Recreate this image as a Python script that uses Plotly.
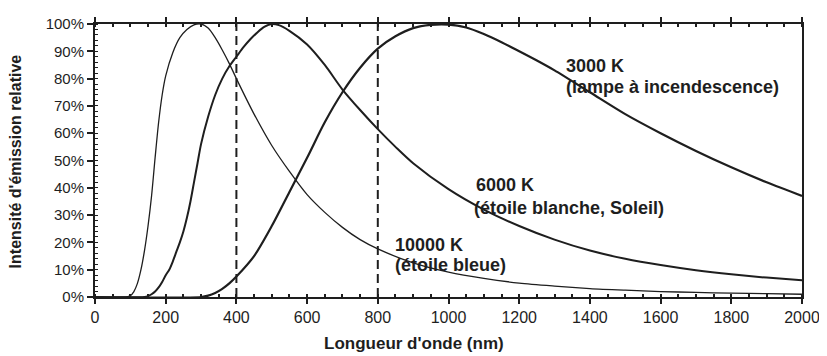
import plotly.graph_objects as go

# Wavelength (nm) and relative emission (%)
wl_10000 = [0, 90, 100, 110, 120, 130, 140, 150, 160, 170, 180, 190, 200, 220, 240, 260, 280, 300,
            320, 340, 360, 380, 400, 450, 500, 550, 600, 650, 700, 750, 800, 900, 1000, 1100,
            1200, 1300, 1400, 1500, 1600, 1700, 1800, 1900, 2000]
int_10000 = [0, 0, 0.5, 2, 5, 10, 17, 26, 37, 51, 64, 74, 81, 89.5, 95, 98, 99.7, 100,
             98.5, 95, 90.5, 85.5, 80, 67, 55.5, 46, 37.5, 31, 25.5, 21, 17.6, 12.5, 9.1, 6.8,
             5.1, 4.0, 3.1, 2.5, 2.0, 1.7, 1.4, 1.2, 1.0]

wl_6000 = [0, 140, 150, 160, 170, 180, 190, 200, 210, 220, 230, 240, 250, 260, 270, 280, 290, 300,
           320, 340, 360, 380, 400, 420, 440, 460, 480, 500, 520, 550, 600, 650, 700, 750, 800,
           850, 900, 1000, 1100, 1200, 1300, 1400, 1500, 1600, 1700, 1800, 1900, 2000]
int_6000 = [0, 0, 0.3, 1, 2, 3.5, 5.5, 8, 10, 13, 16.5, 20, 24, 29, 35, 42, 49, 56,
            66, 74, 80, 84.5, 88, 91.5, 94.5, 97, 99, 100, 99.6, 97.5, 92.5, 85, 76, 68.5, 61.5,
            55, 49, 39.5, 32, 26, 21, 17, 14, 11.7, 9.8, 8.3, 7.1, 6.1]

wl_3000 = [0, 300, 320, 340, 360, 380, 400, 450, 500, 550, 600, 650, 700, 750, 800, 850, 900,
           950, 1000, 1050, 1100, 1150, 1200, 1250, 1300, 1400, 1500, 1600, 1700, 1800, 1900, 2000]
int_3000 = [0, 0, 0.5, 1.5, 3, 5, 7.5, 15, 26, 38.5, 51, 64, 75, 84, 91, 95.5, 98.5,
            99.7, 99.8, 98.7, 96.3, 93.3, 90, 86.6, 83, 75, 67, 60, 53.5, 47.5, 42, 37]

visible_limits_nm = [400, 800]

# curve labels: (text, x in nm, y in %)
label_lines = [
    ("3000 K", 1326, 84.7),
    ("(lampe à incendescence)", 1326, 76.9),
    ("6000 K", 1073, 41.0),
    ("(étoile blanche, Soleil)", 1067, 32.6),
    ("10000 K", 843, 19.0),
    ("(étoile bleue)", 843, 11.7),
]

ink = "#1e1e1e"
font_family = "Liberation Sans, Arial, sans-serif"

fig = go.Figure()
for wl, val, w in [(wl_10000, int_10000, 1.3), (wl_6000, int_6000, 2.0), (wl_3000, int_3000, 2.2)]:
    fig.add_trace(go.Scatter(x=wl, y=val, mode="lines",
                             line=dict(color=ink, width=w, shape="spline", smoothing=0.8),
                             showlegend=False, hoverinfo="skip"))

for v in visible_limits_nm:
    fig.add_shape(type="line", xref="x", yref="y", x0=v, x1=v, y0=0, y1=100,
                  line=dict(color=ink, width=2, dash="9px,5px"))

for txt, x, y in label_lines:
    fig.add_annotation(x=x, y=y, xref="x", yref="y", text=txt, showarrow=False,
                       xanchor="left", yanchor="middle", align="left",
                       font=dict(family=font_family, size=18, color=ink, weight="bold"))

fig.add_annotation(x=0.451, y=-0.17, xref="paper", yref="paper", text="Longueur d'onde (nm)",
                   showarrow=False, xanchor="center", yanchor="middle",
                   font=dict(family=font_family, size=17, color=ink, weight="bold"))
fig.add_annotation(x=-0.112, y=0.496, xref="paper", yref="paper", text="Intensité d'émission relative",
                   showarrow=False, xanchor="center", yanchor="middle", textangle=-90,
                   font=dict(family=font_family, size=16, color=ink, weight="bold"))

# page body has an 8px margin, so the figure is sized to fit the 827x356 window
fig.update_layout(
    width=819, height=348,
    margin=dict(l=87, r=20, t=7, b=59),
    paper_bgcolor="white", plot_bgcolor="white",
    font=dict(family=font_family, color=ink),
)
fig.update_xaxes(range=[0, 2000], tickmode="linear", tick0=0, dtick=200,
                 showgrid=False, zeroline=False,
                 showline=True, linecolor=ink, linewidth=2, mirror="ticks",
                 ticks="outside", ticklen=5, tickwidth=2, tickcolor=ink,
                 minor=dict(dtick=50, ticks="inside", ticklen=3, tickwidth=1.5, tickcolor=ink),
                 tickfont=dict(size=16, color=ink))
fig.update_yaxes(range=[0, 100], tickmode="linear", tick0=0, dtick=10, ticksuffix="%",
                 showgrid=False, zeroline=False,
                 showline=True, linecolor=ink, linewidth=2, mirror=True,
                 ticks="outside", ticklen=6, tickwidth=2, tickcolor=ink,
                 minor=dict(dtick=2, ticks="inside", ticklen=3, tickwidth=1.2, tickcolor=ink),
                 tickfont=dict(size=15, color=ink))

fig.write_html("out.html")
